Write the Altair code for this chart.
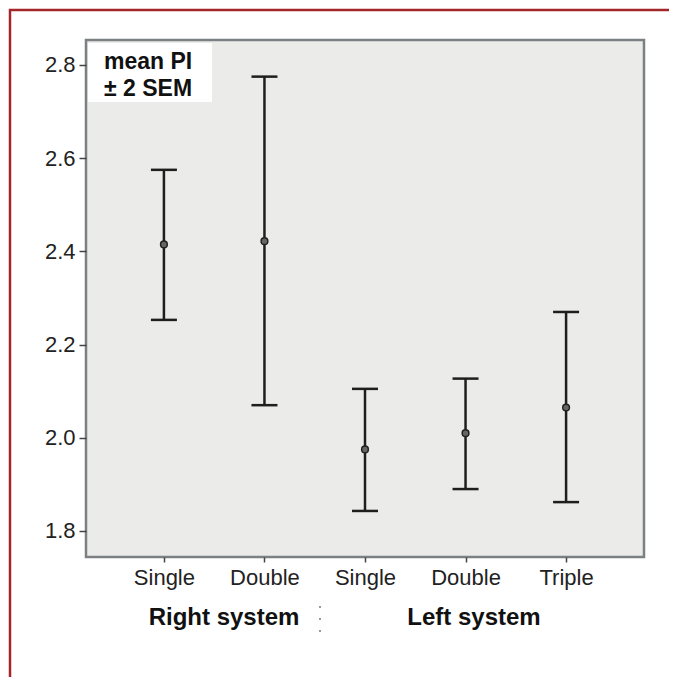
import altair as alt
import pandas as pd

# ---- data ----
cat_keys = ["R-Single", "R-Double", "L-Single", "L-Double", "L-Triple"]
means = [2.415, 2.422, 1.975, 2.010, 2.065]
upper = [2.575, 2.775, 2.105, 2.127, 2.270]
lower = [2.253, 2.070, 1.843, 1.890, 1.862]
y_ticks = [1.8, 2.0, 2.2, 2.4, 2.6, 2.8]
group_labels = ["Right system", "Left system"]
legend_lines = ["mean PI", "\u00b1 2 SEM"]

df = pd.DataFrame({"cat": cat_keys, "mean": means, "upper": upper, "lower": lower})

FONT = "Liberation Sans"
W, H = 558, 517
INK = "#1e1e1e"

xenc = alt.X(
    "cat:N",
    sort=cat_keys,
    scale=alt.Scale(type="point", padding=0.775),
    axis=alt.Axis(
        title=None,
        labelExpr="split(datum.value, '-')[1]",
        labelAngle=0,
        labelFont=FONT,
        labelFontSize=22,
        labelColor="#222222",
        labelPadding=5,
        tickSize=5,
        tickColor="#444444",
        tickWidth=1.5,
        domain=False,
    ),
)
yscale = alt.Scale(domain=[1.7442, 2.8536], nice=False, zero=False)
yenc = alt.Y(
    "lower:Q",
    scale=yscale,
    axis=alt.Axis(
        title=None,
        values=y_ticks,
        format=".1f",
        labelFont=FONT,
        labelFontSize=22,
        labelColor="#222222",
        labelPadding=4,
        tickSize=7,
        tickColor="#444444",
        tickWidth=1.5,
        domain=False,
        grid=False,
    ),
)

base = alt.Chart(df)

rules = base.mark_rule(color=INK, strokeWidth=2.5).encode(
    x=xenc, y=yenc, y2="upper:Q"
)
cap_hi = base.mark_tick(color=INK, thickness=2.5, size=26, orient="horizontal", opacity=1).encode(
    x=alt.X("cat:N", sort=cat_keys), y=alt.Y("upper:Q", scale=yscale)
)
cap_lo = base.mark_tick(color=INK, thickness=2.5, size=26, orient="horizontal", opacity=1).encode(
    x=alt.X("cat:N", sort=cat_keys), y=alt.Y("lower:Q", scale=yscale)
)
pts = base.mark_point(shape="circle", size=45, filled=True, color="#666666",
                      stroke="#222222", strokeWidth=1.5, opacity=1).encode(
    x=alt.X("cat:N", sort=cat_keys), y=alt.Y("mean:Q", scale=yscale)
)

one = pd.DataFrame({"k": [0]})

legend_box = alt.Chart(one).mark_rect(color="white").encode(
    x=alt.value(2), x2=alt.value(126), y=alt.value(3), y2=alt.value(62)
)
leg_df = pd.DataFrame({"t": legend_lines, "i": [0, 1]})
legend_text = alt.Chart(leg_df).mark_text(
    font=FONT, fontSize=23, fontWeight="bold", align="left", baseline="alphabetic", color="#111111"
).encode(text="t:N", x=alt.value(18), y=alt.value(29)).transform_filter("datum.i == 0")
legend_text2 = alt.Chart(leg_df).mark_text(
    font=FONT, fontSize=23, fontWeight="bold", align="left", baseline="alphabetic", color="#111111"
).encode(text="t:N", x=alt.value(18), y=alt.value(56)).transform_filter("datum.i == 1")

g1 = alt.Chart(pd.DataFrame({"t": [group_labels[0]]})).mark_text(
    font=FONT, fontSize=24, fontWeight="bold", align="center", baseline="middle", color="#111111"
).encode(text="t:N", x=alt.value(138), y=alt.value(578))
g2 = alt.Chart(pd.DataFrame({"t": [group_labels[1]]})).mark_text(
    font=FONT, fontSize=24, fontWeight="bold", align="center", baseline="middle", color="#111111"
).encode(text="t:N", x=alt.value(388), y=alt.value(578))

sep = alt.Chart(one).mark_rule(color="#999999", strokeWidth=2, strokeDash=[2, 10]).encode(
    x=alt.value(234), y=alt.value(566), y2=alt.value(598)
)

border = alt.Chart(one).mark_rect(filled=False, stroke="#a3262b", strokeWidth=2.5, clip=False).encode(
    x=alt.value(-76), x2=alt.value(720), y=alt.value(-30), y2=alt.value(720)
)

chart = alt.layer(
    legend_box, rules, cap_hi, cap_lo, pts, legend_text, legend_text2, g1, g2, sep, border
).properties(
    width=W, height=H,
    background="white",
    autosize=alt.AutoSizeParams(type="none"),
    padding={"left": 78, "top": 32, "right": 25, "bottom": 120},
).configure_view(
    fill="#ebebe9", stroke="#7b8082", strokeWidth=2.5
)

chart.save("out.html", embed_options={"renderer": "svg", "actions": False})
